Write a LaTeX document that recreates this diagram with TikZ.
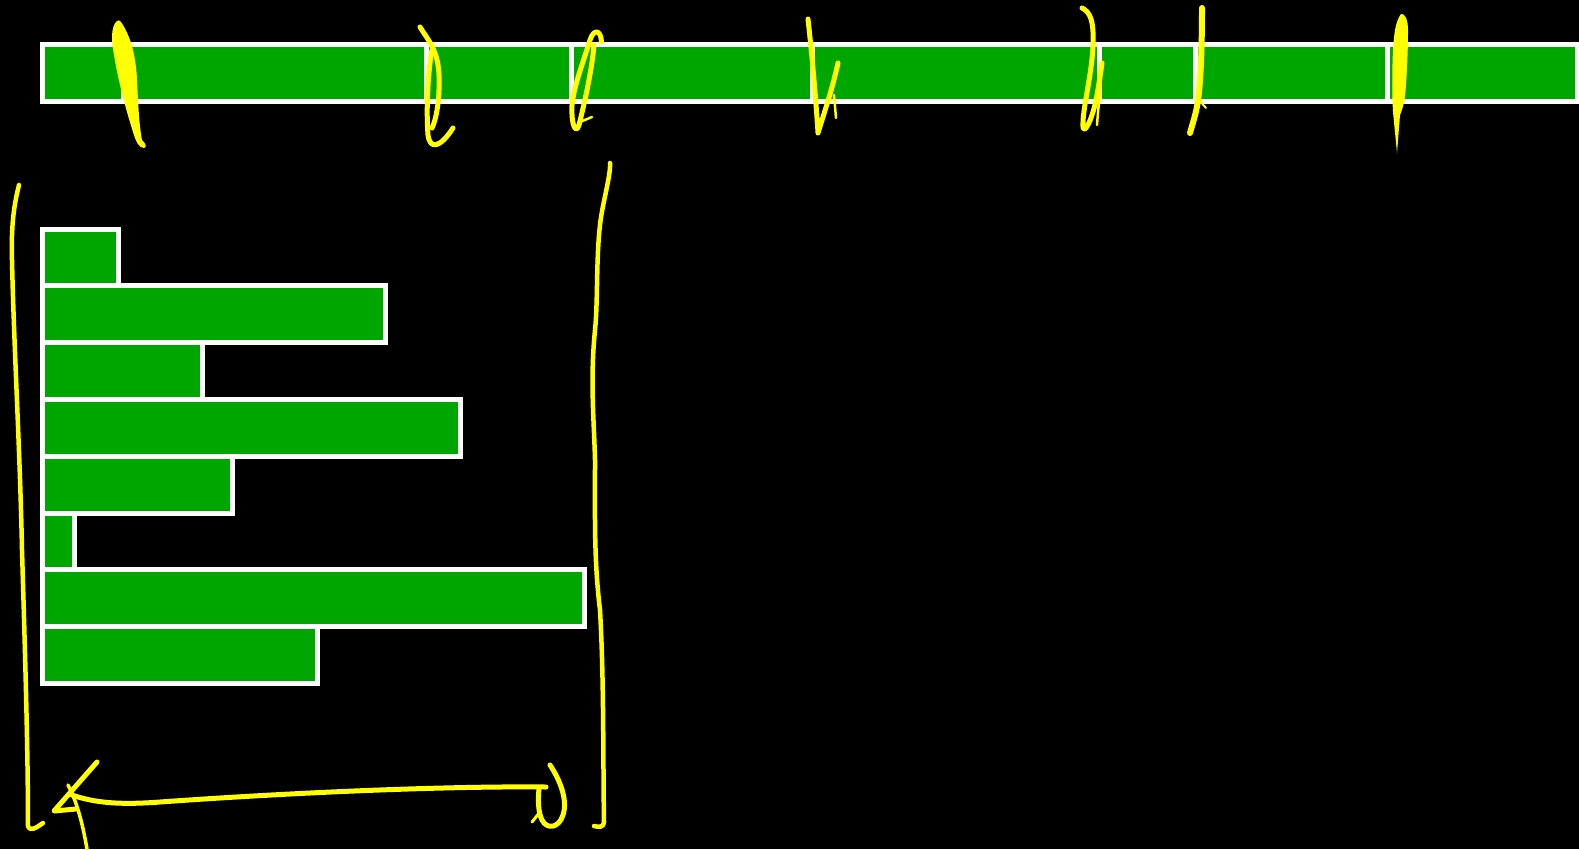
\documentclass[tikz,border=0pt]{standalone}
\definecolor{bargreen}{RGB}{0,166,0}
\definecolor{hl}{RGB}{255,255,0}
\tikzset{
  seg/.style={fill=bargreen, draw=white, line width=5pt},
  ink/.style={draw=hl, line width=5pt, line cap=round, line join=round},
  inkthin/.style={ink, line width=2.5pt},
  inkblob/.style={fill=hl},
}
\begin{document}
\begin{tikzpicture}[x=1pt,y=-1pt]
\fill[black] (0,0) rectangle (1579,849);
\useasboundingbox (0,0) rectangle (1579,849);
% top bar segments
\foreach \a/\b in {42.5/123, 123/426, 426/571, 571/812, 812/1099, 1099/1195, 1195/1387, 1387/1577}
  \draw[seg] (\a,44.8) rectangle (\b,101.8);
% left stacked bars
\foreach \i/\w in {0/118.8, 1/385, 2/202.8, 3/460.8, 4/232.7, 5/74.8, 6/584.2, 7/317}
  \draw[seg] (42.5,229+56.8*\i) rectangle (\w,285.8+56.8*\i);
% yellow marks across the top bar
% A
\fill[hl] (117,21) .. controls (111,26) and (111,40) .. (114,55)
  .. controls (118,80) and (126,110) .. (133,132)
  .. controls (136,142) and (139,148) .. (144,148)
  .. controls (147,147) and (146,144) .. (142,140)
  .. controls (139,125) and (138,100) .. (137,80)
  .. controls (136,55) and (130,35) .. (121,22)
  .. controls (120,20) and (118,20) .. (117,21) -- cycle;
% B
\draw[ink] (420,27) .. controls (428,40) and (438,50) .. (439,75)
  .. controls (440,100) and (436,120) .. (432,128);
\draw[ink] (432,50) .. controls (428,70) and (426,110) .. (428,135)
  .. controls (430,150) and (440,148) .. (453,128);
% C
\draw[ink] (601.5,42) .. controls (601,30) and (594,28) .. (590,40)
  .. controls (584,60) and (574,85) .. (572,105)
  .. controls (571,125) and (576,135) .. (579,125)
  .. controls (584,105) and (592,70) .. (594,45);
\draw[inkthin] (580,122) -- (592,117);
% D
\draw[ink] (808,19) .. controls (812,55) and (816,100) .. (818,133)
  .. controls (825,110) and (832,90) .. (838,63);
\draw[inkthin] (834,95) -- (836,118);
% E
\draw[ink] (1082,8) .. controls (1090,12) and (1094,20) .. (1093,45)
  .. controls (1092,75) and (1082,110) .. (1083,127)
  .. controls (1084,135) and (1092,120) .. (1096,100)
  .. controls (1099,85) and (1101,70) .. (1102,63);
\draw[inkthin] (1101,75) .. controls (1100,95) and (1098,110) .. (1097,125);
% F
\draw[ink, line width=6pt] (1202,8) .. controls (1202,40) and (1201,80) .. (1198,100)
  .. controls (1196,115) and (1192,125) .. (1190,133);
\draw[inkthin, line width=2pt] (1199,100) -- (1206,108);
% G
\fill[hl] (1397,153) -- (1393,112) .. controls (1392,95) and (1392,70) .. (1393,50)
  .. controls (1394,35) and (1395,22) .. (1401,14)
  .. controls (1405,13) and (1408,20) .. (1408,30)
  .. controls (1408,50) and (1407,70) .. (1406,85)
  .. controls (1405,100) and (1403,108) .. (1400,115) -- cycle;
% brackets
\draw[ink, line width=4.5pt] (19,185) .. controls (14,205) and (11,225) .. (12,260)
  .. controls (14,350) and (20,450) .. (22,550)
  .. controls (25,650) and (28,750) .. (28,826)
  .. controls (30,832) and (36,828) .. (43,823);
\draw[ink, line width=4.5pt] (610,163) .. controls (611,175) and (602,205) .. (600,225)
  .. controls (596,260) and (598,300) .. (595,330)
  .. controls (590,380) and (594,420) .. (595,460)
  .. controls (595,520) and (594,560) .. (600,610)
  .. controls (604,680) and (603,760) .. (604,822)
  .. controls (604,828) and (598,827) .. (594,826);
% double arrow at the bottom
\coordinate (arrL) at (72,795);
\coordinate (arrR) at (546,787);
\draw[ink] (arrL) .. controls (95,803) and (120,805) .. (160,802)
  .. controls (300,792) and (450,786) .. (arrR);
\draw[ink] (97,762) -- (54,811) -- (76,809);
\draw[ink, line width=3.5pt] (68,785) .. controls (76,800) and (82,820) .. (87,849);
\draw[ink] (550,765) .. controls (560,780) and (568,800) .. (563,815)
  .. controls (559,828) and (547,830) .. (542,820)
  .. controls (538,812) and (538,800) .. (539,788);
\draw[inkthin, line width=3pt] (540,812) -- (532,822);
\end{tikzpicture}
\end{document}
